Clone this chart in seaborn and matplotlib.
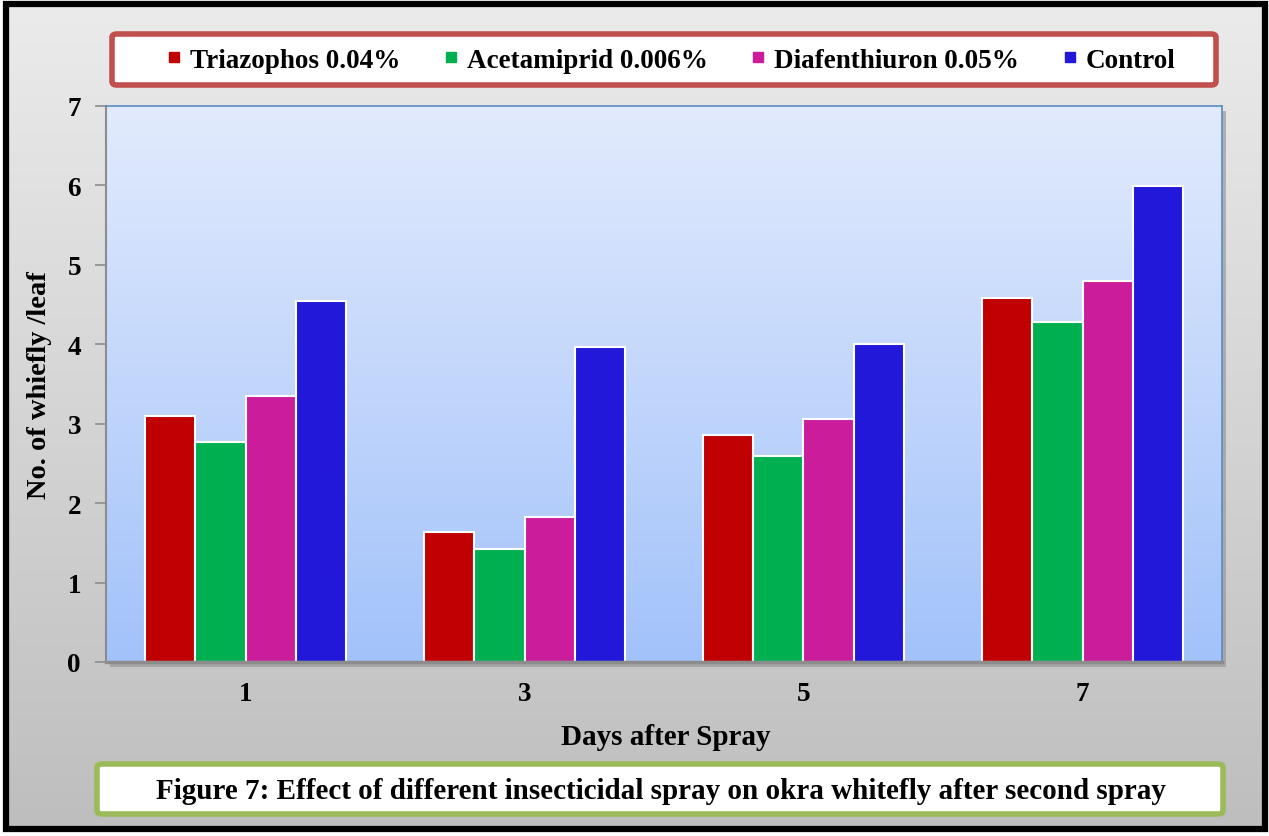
import numpy as np
import pandas as pd
import matplotlib
matplotlib.use("Agg")
import matplotlib.pyplot as plt
import seaborn as sns
from matplotlib.patches import FancyBboxPatch, Rectangle
from matplotlib.lines import Line2D
from matplotlib.colors import LinearSegmentedColormap

# ---- data ----
days = ["1", "3", "5", "7"]
treatments = ["Triazophos 0.04%", "Acetamiprid 0.006%", "Diafenthiuron 0.05%", "Control"]
triazophos = [3.10, 1.64, 2.86, 4.58]
acetamiprid = [2.77, 1.42, 2.59, 4.28]
diafenthiuron = [3.35, 1.83, 3.06, 4.80]
control = [4.54, 3.97, 4.00, 5.99]
colors = ["#C00000", "#00B050", "#CB1D9B", "#2218D9"]
yticks = [0, 1, 2, 3, 4, 5, 6, 7]

df = pd.DataFrame({
    "day": days * 4,
    "treatment": sum([[t] * 4 for t in treatments], []),
    "value": triazophos + acetamiprid + diafenthiuron + control,
})

sns.set_theme(style="white")
plt.rcParams["font.family"] = ["Liberation Serif", "DejaVu Serif"]
plt.rcParams["font.weight"] = "bold"
plt.rcParams["text.color"] = "black"
plt.rcParams["axes.labelcolor"] = "black"
plt.rcParams["xtick.color"] = "black"
plt.rcParams["ytick.color"] = "black"

W, H = 1269, 837
fig = plt.figure(figsize=(W / 100, H / 100), dpi=100)
fig.patch.set_facecolor("white")

def fx(px):
    return px / W

def fy(py):
    return 1 - py / H

# figure background gradient
bg = fig.add_axes([0, 0, 1, 1], zorder=-10)
grad = np.linspace(0, 1, 256).reshape(-1, 1)
cm_bg = LinearSegmentedColormap.from_list("bg", ["#EBEBEB", "#BEBEBE"])
bg.imshow(grad, aspect="auto", cmap=cm_bg, extent=[fx(6), fx(1265), fy(830), fy(5)])
bg.set_xlim(0, 1)
bg.set_ylim(0, 1)
bg.axis("off")
bg.add_patch(Rectangle((fx(6), fy(830)), fx(1265) - fx(6), fy(5) - fy(830),
                       fill=False, edgecolor="black", lw=4.5))

# plot area
left, right, top, bottom = 106, 1222, 107, 663
ax = fig.add_axes([fx(left), fy(bottom), fx(right) - fx(left), fy(top) - fy(bottom)])
bg.add_patch(Rectangle((fx(left + 4), fy(bottom + 5)), fx(right) - fx(left), fy(top) - fy(bottom),
                       facecolor="#8f8f8f", edgecolor="none", alpha=0.6, zorder=1))

cm_ax = LinearSegmentedColormap.from_list("ax", ["#E2EBFD", "#A2C2FA"])
ax.imshow(grad, aspect="auto", cmap=cm_ax, extent=[0, 1, 0, 1],
          transform=ax.transAxes, zorder=0)

sns.barplot(data=df, x="day", y="value", hue="treatment", hue_order=treatments,
            palette=colors, width=0.72, edgecolor="white", linewidth=1.5,
            saturation=1, legend=False, ax=ax, zorder=2)

ax.set_xlim(-0.5, 3.5)
ax.set_ylim(0, 7)
ax.set_yticks(yticks)
ax.set_yticklabels([str(v) for v in yticks], fontsize=19.5, fontweight="bold")
ax.set_xticks(range(4))
ax.set_xticklabels(days, fontsize=19.5, fontweight="bold")
ax.set_xticks([-0.5, 0.5, 1.5, 2.5, 3.5], minor=True)
ax.tick_params(axis="x", which="major", length=0, pad=14)
ax.tick_params(axis="x", which="minor", length=8, width=1.2, color="#8c8c8c", direction="out")
ax.tick_params(axis="y", which="major", length=8, width=1.2, color="#8c8c8c",
               labelcolor="black", direction="out", pad=10, left=True)
ax.set_xlabel("Days after Spray", fontsize=21, fontweight="bold")
ax.set_ylabel("No. of whiefly /leaf", fontsize=20.5, fontweight="bold")
ax.xaxis.set_label_coords((fx(666) - fx(left)) / (fx(right) - fx(left)),
                          (fy(738) - fy(bottom)) / (fy(top) - fy(bottom)))
ax.xaxis.label.set_va("center")
ax.yaxis.set_label_coords((fx(40) - fx(left)) / (fx(right) - fx(left)),
                          (fy(385) - fy(bottom)) / (fy(top) - fy(bottom)))
ax.yaxis.label.set_va("center")
ax.grid(False)
for s in ["top", "right"]:
    ax.spines[s].set_color("#5A8AC6")
    ax.spines[s].set_linewidth(1.2)
ax.spines["left"].set_color("#8c8c8c")
ax.spines["left"].set_linewidth(1.5)
ax.spines["bottom"].set_color("#8c8c8c")
ax.spines["bottom"].set_linewidth(2.5)

# legend box
bg.add_patch(FancyBboxPatch((fx(112), fy(86)), fx(1216) - fx(112), fy(35) - fy(86),
                            boxstyle="round,pad=0,rounding_size=0.004",
                            facecolor="white", edgecolor="#C0504D", lw=4, zorder=3))
handles = [Line2D([0], [0], marker="s", linestyle="none", markersize=7.5,
                  markerfacecolor=c, markeredgecolor=c) for c in colors]
leg = fig.legend(handles, treatments, loc="center", bbox_to_anchor=(fx(671), fy(61)),
                 ncol=4, frameon=False, prop={"size": 19.5, "weight": "bold"},
                 handlelength=0.55, handletextpad=0.3, columnspacing=1.6)
leg.set_zorder(5)

# caption box
bg.add_patch(FancyBboxPatch((fx(97), fy(815)), fx(1223) - fx(97), fy(765) - fy(815),
                            boxstyle="round,pad=0,rounding_size=0.004",
                            facecolor="white", edgecolor="#9BBB59", lw=4, zorder=3))
fig.text(fx(661), fy(792),
         "Figure 7: Effect of different insecticidal spray on okra whitefly after second spray",
         ha="center", va="center", fontsize=21, fontweight="bold", zorder=6)

fig.savefig("out.png", dpi=100)
